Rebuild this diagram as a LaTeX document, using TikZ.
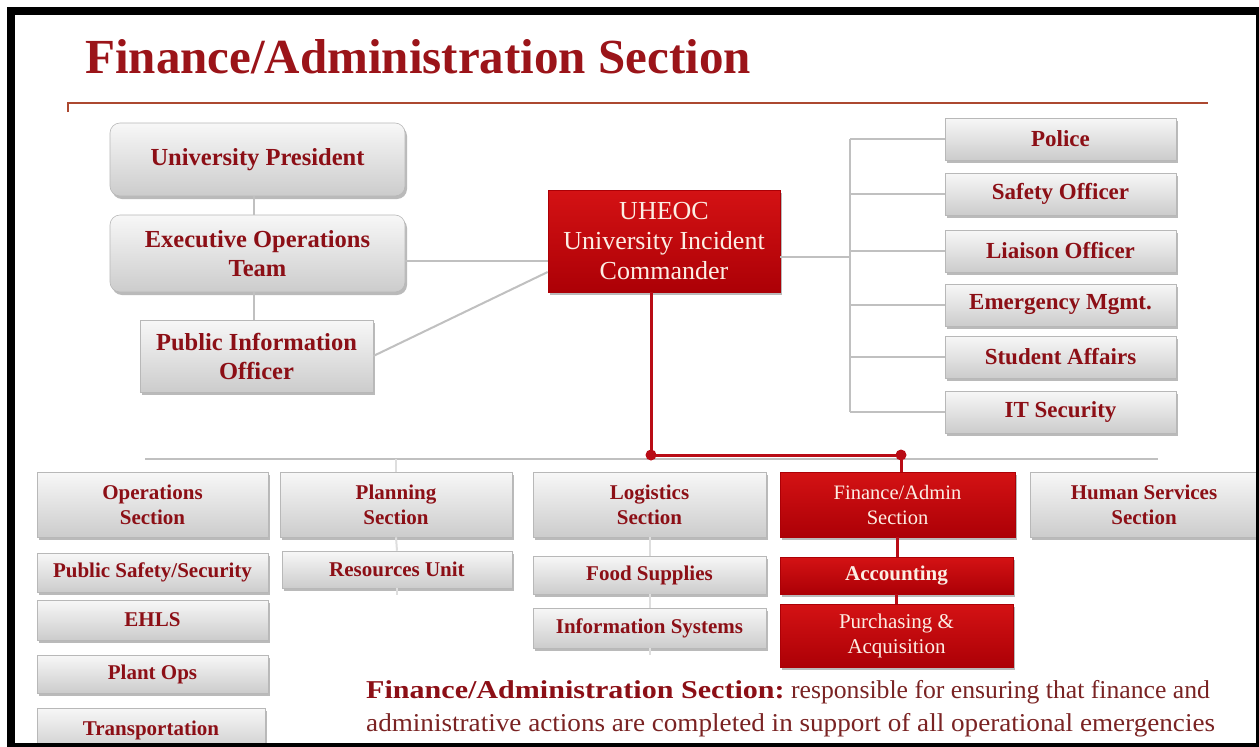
\documentclass[tikz,border=0pt]{standalone}
\usepackage{fontspec}
\setmainfont{Liberation Serif}
\usepackage{graphicx}
\usetikzlibrary{shadows}
\definecolor{tred}{RGB}{140,15,22}
\definecolor{ttl}{RGB}{155,20,25}
\definecolor{tlight}{RGB}{252,238,228}
\definecolor{rtop}{RGB}{212,18,20}
\definecolor{rbot}{RGB}{172,0,6}
\definecolor{cgline}{RGB}{192,192,192}
\definecolor{cfaint}{RGB}{222,222,222}
\definecolor{crline}{RGB}{185,12,22}
\definecolor{culine}{RGB}{172,72,48}
\definecolor{btxt}{RGB}{122,35,35}
\tikzset{
  gbox/.style={draw=black!28, line width=0.6pt, top color=black!3, bottom color=black!20,
    drop shadow={shadow xshift=2pt,shadow yshift=-3pt,fill=black!60,opacity=0.45},
    text=tred, align=center, inner sep=0pt},
  rbox/.style={draw=rbot, line width=0.6pt, top color=rtop, bottom color=rbot,
    drop shadow={shadow xshift=2pt,shadow yshift=-3pt,fill=black!60,opacity=0.45},
    text=tlight, align=center, inner sep=0pt},
  wh/.style 2 args={minimum width=#1pt, minimum height=#2pt},
  fA/.style={font=\fontsize{24.5}{29}\selectfont\bfseries},
  fU/.style={font=\fontsize{26}{30}\selectfont},
  fR/.style={font=\fontsize{23}{27}\selectfont\bfseries},
  fS/.style={font=\fontsize{21}{25}\selectfont\bfseries},
  fF/.style={font=\fontsize{20.5}{25}\selectfont},
  fP/.style={font=\fontsize{21}{25}\selectfont},
  glink/.style={draw=cgline, line width=2pt},
  flink/.style={draw=cfaint, line width=2pt},
  rlink/.style={draw=crline, line width=3pt},
}
\begin{document}
\begin{tikzpicture}[x=1pt,y=-1pt]
\useasboundingbox (0,0) rectangle (1259,747);
\fill[white] (0,0) rectangle (1259,747);

% title
\node[anchor=base west, inner sep=0pt, text=ttl, font=\fontsize{49}{55}\selectfont\bfseries] (title) at (85,73) {Finance/Administration Section};
\coordinate (ulA) at (68,112);
\coordinate (ulB) at (68,103);
\coordinate (ulC) at (1208,103);
\draw[culine, line width=2.5pt] (ulA) -- (ulB) -- (ulC);

% top-left boxes
\node[gbox, rounded corners=10pt, wh={295}{73}, fA] (pres) at (257.5,159.5) {University President};
\node[gbox, rounded corners=10pt, wh={295}{77}, fA] (eot) at (257.5,253.5) {Executive Operations\\Team};
\node[gbox, wh={233}{72}, fA] (pio) at (256.5,356) {Public Information\\Officer};

% commander
\node[rbox, wh={232}{102}, fU] (uheoc) at (664,241) {UHEOC\\University Incident\\Commander};

% right column
\node[gbox, wh={231}{42}, fR] (police) at (1060.5,139) {Police};
\node[gbox, wh={231}{42}, fR] (safety) at (1060.5,194) {Safety Officer};
\node[gbox, wh={231}{42}, fR] (liaison) at (1060.5,251) {Liaison Officer};
\node[gbox, wh={231}{42}, fR] (emerg) at (1060.5,305) {Emergency Mgmt.};
\node[gbox, wh={231}{42}, fR] (student) at (1060.5,357) {Student Affairs};
\node[gbox, wh={231}{42}, fR] (itsec) at (1060.5,412) {IT Security};

% sections
\node[gbox, wh={231}{65}, fS] (ops) at (152.5,504.5) {Operations\\Section};
\node[gbox, wh={232}{65}, fS] (plan) at (396,504.5) {Planning\\Section};
\node[gbox, wh={233}{65}, fS] (log) at (649.5,504.5) {Logistics\\Section};
\node[rbox, wh={235}{65}, fF] (fin) at (897.5,504.5) {Finance/Admin\\Section};
\node[gbox, wh={228}{65}, fS] (hs) at (1144,504.5) {Human Services\\Section};

% sub units
\node[gbox, wh={231}{39}, fS] (psafe) at (152.5,572.5) {Public Safety/Security};
\node[gbox, wh={231}{40}, fS] (ehls) at (152.5,620) {EHLS};
\node[gbox, wh={231}{38}, fS] (plant) at (152.5,674) {Plant Ops};
\node[gbox, wh={228}{44}, fS] (trans) at (151,730) {Transportation};
\node[gbox, wh={230}{37}, fS] (res) at (397,569.5) {Resources Unit};
\node[gbox, wh={233}{38}, fS] (food) at (649.5,575) {Food Supplies};
\node[gbox, wh={233}{40}, fS] (info) at (649.5,628) {Information Systems};
\node[rbox, wh={233}{37}, fS] (acc) at (896.5,575.5) {Accounting};
\node[rbox, wh={233}{63}, fP] (purch) at (896.5,635.5) {Purchasing \&\\Acquisition};

% connectors top-left
\draw[glink] ([xshift=-4pt]pres.south) -- ([xshift=-4pt]pres.south |- eot.north);
\draw[glink] ([xshift=-4pt]eot.south) -- ([xshift=-4pt]eot.south |- pio.north);
\draw[glink] ([yshift=-7pt]eot.east) -- ([yshift=-7pt]eot.east -| uheoc.west);
\draw[glink] (pio.east) -- ([yshift=-31pt]uheoc.west);

% right bus
\coordinate (rb) at (850,257);
\draw[glink] ([yshift=-16pt]uheoc.east) -- (rb);
\draw[glink] (police.west -| rb) -- (itsec.west -| rb);
\foreach \n in {police,safety,liaison,emerg,student,itsec}
  \draw[glink] (\n.west -| rb) -- (\n.west);

% lower bus
\coordinate (busL) at (145,459);
\coordinate (busR) at (1158,459);
\draw[glink] (busL) -- (busR);
\draw[flink] (plan.north |- busL) -- (plan.north);
\draw[flink] (plan.south) -- (res.north);
\draw[flink] (res.south) -- ([yshift=-7pt]res.south);
\draw[flink] (log.south) -- (food.north);
\draw[flink] (food.south) -- (info.north);
\draw[flink] (info.south) -- ([yshift=-7pt]info.south);

% red path
\coordinate (d1) at (651,455);
\coordinate (d2) at (901,455);
\draw[rlink] (uheoc.south -| d1) -- (d1) -- (d2) -- (d2 |- fin.north);
\fill[crline] (d1) circle (5.5pt);
\fill[crline] (d2) circle (5.5pt);
\draw[rlink] (fin.south) -- (fin.south |- acc.north);
\draw[rlink] (acc.south) -- (acc.south |- purch.north);

% description
\node[anchor=base west, inner sep=0pt, text=tred, font=\fontsize{25.7}{30}\selectfont\bfseries] (descA) at (366,698) {\scalebox{1.17}[1]{Finance/Administration Section:}};
\node[anchor=base west, inner sep=0pt, text=btxt, font=\fontsize{25.7}{30}\selectfont] (descB) at ([xshift=6pt]descA.base east) {responsible for ensuring that finance and};
\node[anchor=base west, inner sep=0pt, text=btxt, font=\fontsize{25.7}{30}\selectfont] (descC) at (366,731) {\scalebox{1.056}[1]{administrative actions are completed in support of all operational emergencies}};

% frame
\fill[black] (7,7) rectangle (1259,15);
\fill[black] (7,7) rectangle (15,747);
\fill[black] (7,743) rectangle (1259,747);
\fill[black] (1256,7) rectangle (1259,747);
\end{tikzpicture}
\end{document}
